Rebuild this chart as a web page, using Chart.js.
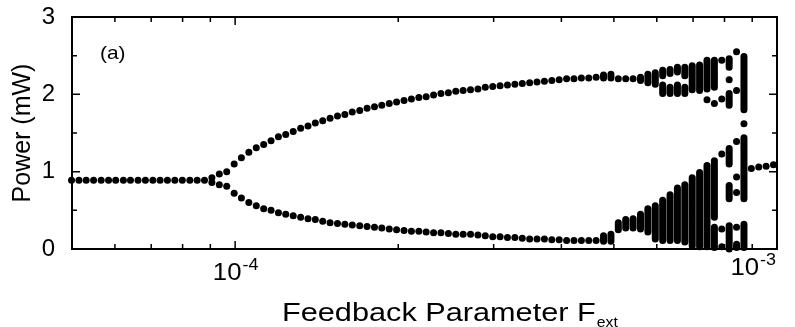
<!DOCTYPE html>
<html>
<head>
<meta charset="utf-8">
<script src="https://cdn.jsdelivr.net/npm/chart.js@4.4.1/dist/chart.umd.min.js"></script>
<style>
    html, body { margin: 0; padding: 0; background: #fff; }
</style>
</head>
<body>
<canvas id="bifurcation" width="795" height="327"></canvas>
<script>
// feedback parameter F_ext, one entry per simulated column (units of 1e-4)
const fextE4 = [0.499, 0.515, 0.531, 0.548, 0.566, 0.584, 0.602, 0.622, 0.641, 0.662,
    0.683, 0.705, 0.727, 0.750, 0.774, 0.799, 0.825, 0.851, 0.878, 0.906,
    0.935, 0.965, 0.996, 1.027, 1.060, 1.094, 1.129, 1.165, 1.202, 1.240,
    1.280, 1.321, 1.363, 1.406, 1.451, 1.497, 1.545, 1.594, 1.645, 1.698,
    1.752, 1.808, 1.865, 1.925, 1.986, 2.050, 2.115, 2.183, 2.252, 2.324,
    2.398, 2.475, 2.554, 2.635, 2.719, 2.806, 2.895, 2.988, 3.083, 3.181,
    3.283, 3.388, 3.496, 3.607, 3.722, 3.841, 3.963, 4.090, 4.220, 4.355,
    4.494, 4.637, 4.785, 4.938, 5.095, 5.258, 5.426, 5.599, 5.777, 5.962,
    6.152, 6.348, 6.550, 6.759, 6.975, 7.197, 7.427, 7.664, 7.908, 8.161,
    8.421, 8.690, 8.967, 9.253, 9.548, 9.852];

// steady state / upper branch of the period-2 orbit (mW)
const powerUpper = [0.89, 0.89, 0.89, 0.89, 0.89, 0.89, 0.89, 0.89, 0.89, 0.89,
    0.89, 0.89, 0.89, 0.89, 0.89, 0.89, 0.89, 0.89, 0.89, 0.92,
    0.97, 1.00, 1.10, 1.18, 1.25, 1.31, 1.35, 1.40, 1.45, 1.48,
    1.52, 1.56, 1.59, 1.63, 1.66, 1.69, 1.72, 1.74, 1.77, 1.79,
    1.82, 1.84, 1.86, 1.88, 1.90, 1.92, 1.94, 1.96, 1.97, 1.99,
    2.01, 2.02, 2.04, 2.05, 2.06, 2.07, 2.09, 2.10, 2.11, 2.12,
    2.13, 2.14, 2.15, 2.16, 2.17, 2.18, 2.19, 2.20, 2.20, 2.21,
    2.21, 2.22, null, null, 2.20, 2.20, 2.20, null, null, null,
    null, null, null, null, null, null, null, null, null, null,
    null, null, 1.04, 1.06, 1.07, 1.09];

// lower branch of the period-2 orbit (mW)
const powerLower = [null, null, null, null, null, null, null, null, null, null,
    null, null, null, null, null, null, null, null, null, 0.86,
    0.83, 0.81, 0.72, 0.66, 0.60, 0.56, 0.52, 0.50, 0.47, 0.45,
    0.43, 0.41, 0.39, 0.38, 0.36, 0.34, 0.33, 0.32, 0.31, 0.30,
    0.29, 0.28, 0.27, 0.26, 0.25, 0.24, 0.23, 0.23, 0.22, 0.21,
    0.21, 0.20, 0.19, 0.19, 0.19, 0.18, 0.17, 0.16, 0.16, 0.15,
    0.15, 0.14, 0.13, 0.13, 0.13, 0.12, 0.12, 0.11, 0.11, 0.11,
    0.11, 0.11];

// dense runs of maxima in the complex region: column index, lowest and highest value
const bandCol  = [72, 72, 73, 73, 74, 75, 76, 77, 77, 78, 78, 79, 79,
    80, 80, 80, 81, 81, 81, 82, 82, 82, 83, 83, 83,
    84, 84, 85, 85, 86, 86, 87, 87, 87,
    89, 89, 89, 89, 89, 90, 91, 91, 91];
const bandLow  = [2.21, 0.10, 2.21, 0.10, 0.25, 0.27, 0.27, 2.18, 0.26, 2.15, 0.22, 2.13, 0.13,
    2.24, 2.01, 0.11, 2.27, 2.01, 0.11, 2.29, 2.01, 0.11, 2.24, 2.01, 0.09,
    2.06, 0.04, 2.05, 0.03, 2.07, 0.03, 2.09, 0.41, 0.02,
    2.35, 1.86, 1.10, 0.65, 0.00, 0.02, 1.80, 0.65, 0.02];
const bandHigh = [2.25, 0.17, 2.26, 0.19, 0.34, 0.38, 0.39, 2.22, 0.45, 2.26, 0.52, 2.28, 0.56,
    2.31, 2.12, 0.63, 2.32, 2.09, 0.70, 2.35, 2.12, 0.79, 2.35, 2.09, 0.83,
    2.37, 0.92, 2.38, 0.99, 2.44, 1.08, 2.44, 1.14, 0.28,
    2.46, 2.01, 1.30, 0.82, 0.30, 0.06, 2.49, 1.44, 0.32];

// isolated maxima in the complex region
const dotCol   = [86, 87, 88, 88, 88, 88, 88, 89, 90, 90, 90, 90, 90, 90, 91];
const dotPower = [1.93, 1.88, 2.44, 1.94, 1.23, 0.26, 0.03, 2.19, 2.55, 2.05, 1.39, 0.93, 0.73, 0.28, 1.62];

// axis ticks
const yMajor = [0, 1, 2, 3];
const yMinor = [0.5, 1.5, 2.5];
const xMajor = [1, 10];
const xMinor = [0.6, 0.7, 0.8, 0.9, 2, 3, 4, 5, 6, 7, 8, 9];

const FONT = "'Liberation Sans', Arial, Helvetica, sans-serif";

function branch(values) {
    const pts = [];
    values.forEach((v, i) => {
        if (v !== null && v !== undefined) pts.push({ x: fextE4[i], y: v });
    });
    return pts;
}

function bands() {
    const pts = [];
    bandCol.forEach((c, i) => {
        pts.push({ x: fextE4[c], y: bandLow[i] });
        pts.push({ x: fextE4[c], y: bandHigh[i] });
        pts.push({ x: fextE4[c], y: null });
    });
    return pts;
}

function dots() {
    return dotCol.map((c, i) => ({ x: fextE4[c], y: dotPower[i] }));
}

function stretchText(ctx, text, x, y, size, sx) {
    ctx.save();
    ctx.font = size + 'px ' + FONT;
    ctx.translate(x, y);
    ctx.scale(sx, 1);
    ctx.fillText(text, 0, 0);
    const w = ctx.measureText(text).width * sx;
    ctx.restore();
    return w;
}

function textWidth(ctx, text, size, sx) {
    ctx.save();
    ctx.font = size + 'px ' + FONT;
    const w = ctx.measureText(text).width * sx;
    ctx.restore();
    return w;
}

const framePlugin = {
    id: 'frame',
    beforeDatasetsDraw(chart) {
        const { ctx, chartArea: a, scales: { x, y } } = chart;
        ctx.save();
        ctx.strokeStyle = '#000';
        ctx.lineWidth = 2;
        ctx.strokeRect(a.left, a.top, a.right - a.left, a.bottom - a.top);
        ctx.lineWidth = 1.5;
        ctx.beginPath();
        const tickY = (v, len) => {
            const py = y.getPixelForValue(v);
            ctx.moveTo(a.left, py); ctx.lineTo(a.left + len, py);
            ctx.moveTo(a.right, py); ctx.lineTo(a.right - len, py);
        };
        const tickX = (v, len) => {
            const px = x.getPixelForValue(v);
            ctx.moveTo(px, a.bottom); ctx.lineTo(px, a.bottom - len);
            ctx.moveTo(px, a.top); ctx.lineTo(px, a.top + len);
        };
        yMajor.forEach(v => tickY(v, 8));
        yMinor.forEach(v => tickY(v, 5));
        xMajor.forEach(v => tickX(v, 8));
        xMinor.forEach(v => tickX(v, 5));
        ctx.stroke();
        ctx.restore();
    },
    afterDraw(chart) {
        const { ctx, chartArea: a, scales: { x } } = chart;
        ctx.save();
        ctx.fillStyle = '#000';
        ctx.textBaseline = 'alphabetic';
        ctx.textAlign = 'left';

        // x tick labels 10^-4 and 10^-3
        const sx = 1.12;
        const lab = [
            { v: 1, exp: '-4', base: 280, anchor: 'center' },
            { v: 10, exp: '-3', base: 275, anchor: 'right' }
        ];
        lab.forEach(l => {
            const wBase = textWidth(ctx, '10', 23, sx);
            const wExp = textWidth(ctx, l.exp, 16, sx);
            const px = x.getPixelForValue(l.v);
            let start = l.anchor === 'center' ? px - (wBase + wExp) / 2 : px - 2 - (wBase + wExp);
            stretchText(ctx, '10', start, l.base, 23, sx);
            stretchText(ctx, l.exp, start + wBase + 1, l.base - 10, 16, sx);
        });

        // x axis title with subscript
        const w = stretchText(ctx, 'Feedback Parameter F', 282, 321, 26, 1.18);
        stretchText(ctx, 'ext', 282 + w + 1, 327, 15, 1.05);

        // panel label
        stretchText(ctx, '(a)', a.left + 28, a.top + 42, 19, 1.1);
        ctx.restore();
    }
};

const dotStyle = {
    pointRadius: 3.5,
    pointHoverRadius: 3.5,
    pointBackgroundColor: '#000',
    pointBorderWidth: 0,
    showLine: false,
    clip: false
};

const config = {
    type: 'scatter',
    data: {
        datasets: [
            Object.assign({ label: 'upper', data: branch(powerUpper) }, dotStyle),
            Object.assign({ label: 'lower', data: branch(powerLower) }, dotStyle),
            Object.assign({ label: 'isolated', data: dots() }, dotStyle),
            {
                type: 'line',
                label: 'bands',
                data: bands(),
                showLine: true,
                spanGaps: false,
                borderColor: '#000',
                borderWidth: 7,
                borderCapStyle: 'round',
                pointRadius: 0,
                pointHoverRadius: 0,
                fill: false,
                clip: false
            }
        ]
    },
    options: {
        responsive: false,
        animation: false,
        events: [],
        layout: { padding: { top: 17, right: 18, left: 0, bottom: 0 } },
        plugins: {
            legend: { display: false },
            tooltip: { enabled: false }
        },
        scales: {
            x: {
                type: 'logarithmic',
                min: 0.5,
                max: 10,
                grid: { display: false, drawTicks: false },
                border: { display: false },
                ticks: { display: false },
                afterFit: (s) => { s.height = 78; s.paddingLeft = 0; s.paddingRight = 0; }
            },
            y: {
                min: 0,
                max: 3,
                grid: { display: false, drawTicks: false },
                border: { display: false },
                ticks: {
                    stepSize: 1,
                    padding: 17,
                    color: '#000',
                    font: { family: FONT, size: 24 }
                },
                title: {
                    display: true,
                    text: 'Power (mW)',
                    color: '#000',
                    font: { family: FONT, size: 25 },
                    padding: { top: 8, bottom: 0 }
                },
                // plot frame is fixed: drop the label overhang chart.js reserves
                afterFit: (s) => { s.width = 72; s.paddingTop = 0; s.paddingBottom = 0; }
            }
        }
    },
    plugins: [framePlugin]
};

new Chart(document.getElementById('bifurcation').getContext('2d'), config);
</script>
</body>
</html>
